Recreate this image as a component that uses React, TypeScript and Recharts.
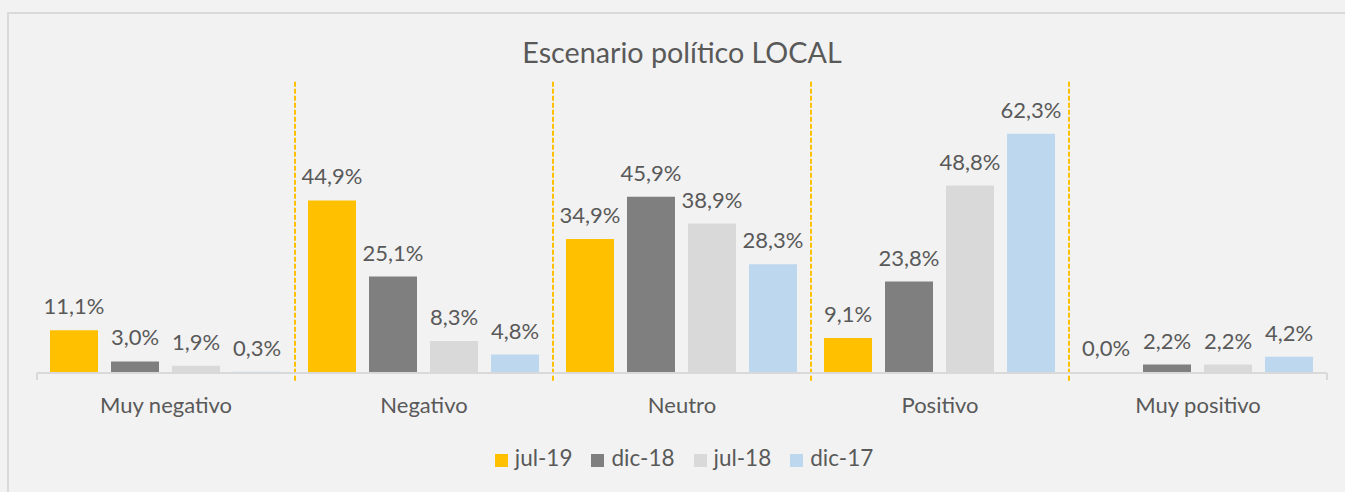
import { Bar, BarChart, LabelList, Legend, ReferenceLine, XAxis, YAxis } from "recharts";

const categories = ["Muy negativo", "Negativo", "Neutro", "Positivo", "Muy positivo"];
const seriesNames = ["jul-19", "dic-18", "jul-18", "dic-17"];
const jul19 = [11.1, 44.9, 34.9, 9.1, 0.0];
const dic18 = [3.0, 25.1, 45.9, 23.8, 2.2];
const jul18 = [1.9, 8.3, 38.9, 48.8, 2.2];
const dic17 = [0.3, 4.8, 28.3, 62.3, 4.2];
const dividers = [1, 2, 3, 4];

const colors = {
  bg: "#F2F2F2",
  frame: "#D9D9D9",
  text: "#595959",
  divider: "#FFC000",
  bars: ["#FFC000", "#7F7F7F", "#D9D9D9", "#BDD7EE"],
};

const font = "Lato, 'Open Sans', sans-serif";
const yMax = 76;

const fmt = (v: number) => `${v.toFixed(1).replace(".", ",")}%`;

const data = categories.map((category, i) => ({
  category,
  slot: i + 0.5,
  "jul-19": jul19[i],
  "dic-18": dic18[i],
  "jul-18": jul18[i],
  "dic-17": dic17[i],
  "jul-19_label": fmt(jul19[i]),
  "dic-18_label": fmt(dic18[i]),
  "jul-18_label": fmt(jul18[i]),
  "dic-17_label": fmt(dic17[i]),
}));

export default function App() {
  return (
    <div
      style={{
        position: "absolute",
        left: 0,
        top: 0,
        width: 1345,
        height: 492,
        background: colors.bg,
        overflow: "hidden",
        fontFamily: font,
      }}
    >
      <div
        style={{
          position: "absolute",
          left: 7,
          top: 12,
          right: -10,
          bottom: -10,
          borderTop: `2px solid ${colors.frame}`,
          borderLeft: `2px solid ${colors.frame}`,
        }}
      />
      <div
        style={{
          position: "absolute",
          left: 37,
          width: 1290,
          top: 38,
          textAlign: "center",
          fontSize: 28.7,
          lineHeight: 1,
          color: colors.text,
        }}
      >
        Escenario político LOCAL
      </div>
      <BarChart
        width={1345}
        height={492}
        data={data}
        margin={{ top: 81, right: 18, bottom: 0, left: 37 }}
        barGap={13}
        barCategoryGap={13}
        style={{ position: "absolute", left: 0, top: 0 }}
      >
        <XAxis
          dataKey="category"
          height={79}
          axisLine={{ stroke: colors.frame, strokeWidth: 2 }}
          tickLine={false}
          tickMargin={18}
          tick={{ fill: colors.text, fontSize: 22, fontFamily: font }}
          interval={0}
        />
        <XAxis xAxisId="grid" dataKey="slot" type="number" domain={[0, 5]} allowDataOverflow hide />
        <YAxis domain={[0, yMax]} hide />
        {dividers.map((d) => (
          <ReferenceLine
            key={d}
            xAxisId="grid"
            segment={[
              { x: d, y: -2 },
              { x: d, y: yMax },
            ]}
            stroke={colors.divider}
            strokeWidth={2}
            strokeDasharray="5 2"
            ifOverflow="visible"
          />
        ))}
        {[0, 5].map((d) => (
          <ReferenceLine
            key={`edge-${d}`}
            xAxisId="grid"
            segment={[
              { x: d, y: -1.8 },
              { x: d, y: 0 },
            ]}
            stroke={colors.frame}
            strokeWidth={2}
            ifOverflow="visible"
          />
        ))}
        {seriesNames.map((name, i) => (
          <Bar key={name} dataKey={name} fill={colors.bars[i]} minPointSize={1} isAnimationActive={false}>
            <LabelList
              dataKey={`${name}_label`}
              position="top"
              offset={16}
              style={{ fill: colors.text, fontSize: 22, fontFamily: font }}
            />
          </Bar>
        ))}
        <Legend
          verticalAlign="bottom"
          iconType="square"
          iconSize={13}
          itemSorter={(item: { value?: string }) => seriesNames.indexOf(String(item.value))}
          wrapperStyle={{
            height: 40,
            left: 0,
            width: 1345,
            paddingLeft: 42,
            boxSizing: "border-box",
            bottom: 8,
            fontFamily: font,
            fontSize: 22.5,
          }}
          formatter={(value) => (
            <span style={{ color: colors.text, marginLeft: 3, marginRight: 9 }}>{value}</span>
          )}
        />
      </BarChart>
    </div>
  );
}
